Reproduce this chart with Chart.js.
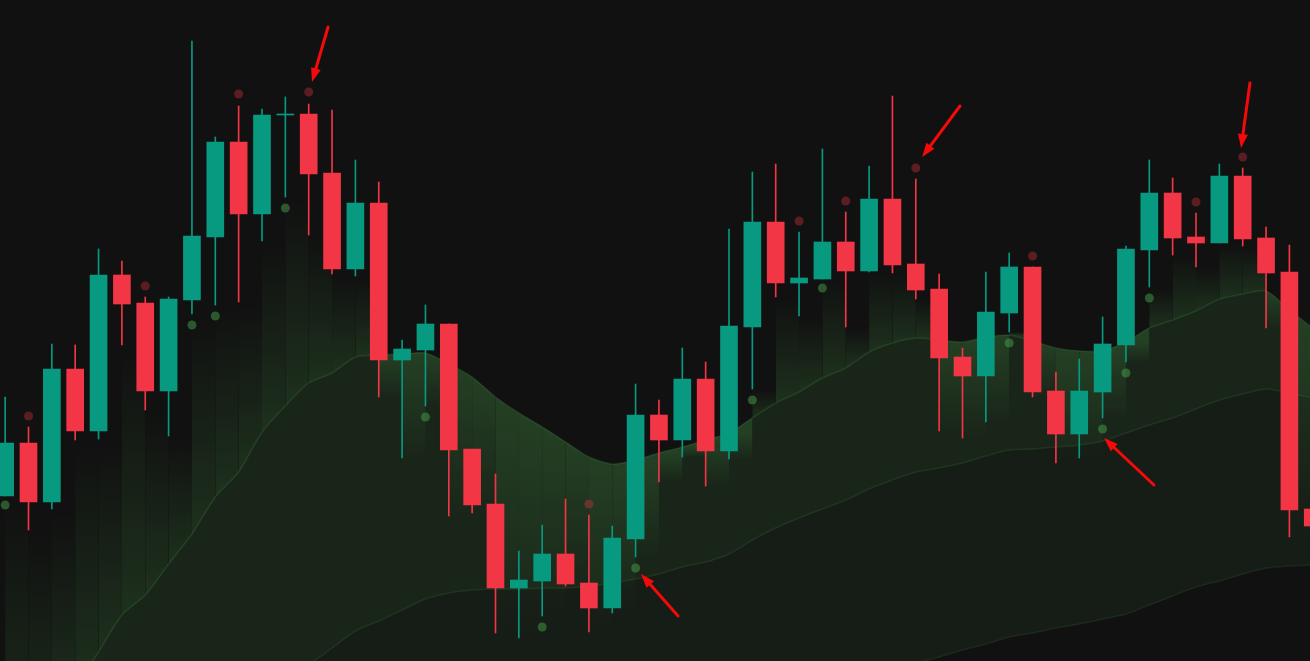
<!DOCTYPE html>
<html>
<head>
<meta charset="utf-8">
<style>
html,body{margin:0;padding:0;background:#111111;overflow:hidden}
#wrap{width:1310px;height:661px;background:#111111}
canvas{display:block}
</style>
<script src="https://cdn.jsdelivr.net/npm/chart.js@4/dist/chart.umd.min.js"></script>
</head>
<body>
<div id="wrap"><canvas id="c" width="1310" height="661"></canvas></div>
<script>
// ---- data (price units) ----
const opens  = [116.5,121.8,115.9,129.2,123.0,138.6,135.8,127.0,136.1,142.4,151.9,144.7,154.6,154.7,148.8,139.2,145.8,130.1,131.1,133.7,121.2,115.7,107.3,108.0,110.7,107.8,105.3,112.2,124.6,122.1,128.2,121.0,133.4,143.9,137.8,138.2,141.9,139.0,146.2,139.7,137.2,130.4,128.5,134.8,139.4,127.0,122.7,126.9,131.6,141.1,146.8,142.4,141.8,148.5,142.3,138.9,115.2];
const highs  = [126.4,123.4,131.7,131.6,141.2,140.0,136.4,136.4,162.0,152.4,155.5,155.2,156.4,155.7,155.1,150.1,147.9,132.1,135.6,133.7,121.2,118.7,111.0,113.6,116.2,114.6,113.5,127.7,126.1,131.3,129.9,143.2,148.9,149.7,142.9,151.2,144.9,149.5,156.5,148.2,138.7,131.3,138.9,140.8,139.4,128.9,130.2,134.4,141.5,150.1,148.3,144.8,149.7,149.3,143.4,141.6,116.1];
const lows   = [116.5,113.1,115.2,122.1,122.2,131.6,125.1,122.5,134.7,135.6,135.9,142.0,146.4,142.6,138.7,138.5,126.4,120.3,125.5,114.5,114.8,102.8,102.3,104.5,107.5,102.9,104.8,110.4,117.9,120.4,117.5,120.2,127.2,136.4,134.5,138.2,133.4,138.9,138.8,136.2,123.0,122.3,123.9,132.9,126.4,119.8,120.3,124.3,129.9,137.4,140.6,139.4,141.8,141.5,133.3,112.4,111.6];
const closes = [121.8,115.9,129.2,123.0,138.6,135.7,127.0,136.2,142.5,151.9,144.7,154.6,154.7,148.7,139.2,145.8,130.1,131.2,133.7,121.1,115.6,107.3,108.1,110.7,107.7,105.3,112.3,124.6,122.1,128.2,121.0,133.5,143.9,137.8,138.3,141.9,139.0,146.2,139.6,137.1,130.3,128.5,134.9,139.4,126.9,122.7,127.0,131.7,141.2,146.8,142.3,141.8,148.5,142.2,138.8,115.1,113.5];

const upperBand  = [86.6,90.2,93.9,97.4,100.9,104.6,106.6,109.7,112.7,116.4,118.9,122.9,125.5,127.8,128.8,130.4,130.6,130.7,130.8,129.7,128.4,126.4,124.8,123.4,121.9,120.4,119.7,120.1,120.8,121.4,122.1,122.8,124.3,125.8,126.9,128.3,129.3,130.9,131.8,132.3,132.1,131.9,132.4,132.6,132.0,131.3,131.0,131.0,131.9,133.3,134.1,135.0,136.2,136.7,137.0,135.1,133.3];
const middleBand = [78.1,79.8,81.4,83.1,84.7,86.4,88.1,89.7,91.4,93.0,94.7,96.4,98.0,99.6,101.3,103.0,104.0,105.1,106.2,106.8,107.1,107.2,107.2,107.3,107.3,107.5,107.8,108.2,108.7,109.4,109.9,110.7,112.1,113.3,114.3,115.2,116.1,117.2,118.1,118.9,119.3,119.8,120.5,121.1,121.2,121.4,121.6,122.0,122.8,123.6,124.3,125.2,126.1,126.7,127.2,126.8,126.3];
const lowerBand  = [74.8,75.5,76.1,76.8,77.4,78.1,78.7,79.3,80.0,80.6,81.2,81.9,82.5,83.2,83.8,84.4,85.1,85.7,86.4,87.0,87.6,88.3,88.9,89.6,90.2,90.9,91.5,92.1,92.8,93.4,94.0,94.7,95.3,95.9,96.6,97.2,97.9,98.5,99.2,99.8,100.4,101.1,101.7,102.4,102.8,103.3,103.7,104.2,104.7,105.6,106.5,107.4,108.0,108.7,109.3,109.5,109.6];

const sellIdx   = [1,6,10,13,25,34,36,39,44,51,53];
const sellPrice = [124.5,137.5,156.7,156.9,115.7,144.0,146.0,149.3,140.5,145.9,150.4];
const buyIdx    = [0,8,9,12,18,23,27,32,35,43,47,48,49];
const buyPrice  = [115.6,133.6,134.5,145.3,124.4,103.4,109.3,126.1,137.3,131.8,123.2,128.8,136.3];

// arrows in data space (bar index, price)
const arrowTailIdx   = [13.83,40.89,53.31,28.82,49.20];
const arrowTailPrice = [163.4,155.5,157.8,104.5,117.6];
const arrowTipIdx    = [13.14,39.27,52.93,27.23,47.06];
const arrowTipPrice  = [157.9,150.4,151.3,108.7,122.3];

// visible window
const visibleFrom = -0.2206, visibleTo = 55.8822;
const priceFloor = 100, priceCeil = 166.1;

// ---- styles ----
const UP = '#089981', DOWN = '#f23645';
const idx = opens.map((_, i) => i);
const isUp = i => closes[i] >= opens[i];

const U_INDEX = 2;
const glowSegment = (ctx) => {
  const chart = ctx.chart;
  const uMeta = chart.getDatasetMeta(U_INDEX);
  const pU = uMeta && uMeta.data[ctx.p0DataIndex];
  if (!pU || !ctx.p0) return 'rgba(0,0,0,0)';
  const y0 = ctx.p0.y, y1 = pU.y;
  if (!isFinite(y0) || !isFinite(y1) || Math.abs(y1 - y0) < 1) return 'rgba(0,0,0,0)';
  const g = chart.ctx.createLinearGradient(0, y0, 0, y1);
  g.addColorStop(0, 'rgba(70,150,70,0)');
  g.addColorStop(1, 'rgba(70,150,70,0.24)');
  return g;
};

const arrowPlugin = {
  id: 'arrows',
  afterDatasetsDraw(chart) {
    const {ctx} = chart;
    const xs = chart.scales.x, ys = chart.scales.y;
    ctx.save();
    ctx.strokeStyle = '#f50a0a';
    ctx.fillStyle = '#f50a0a';
    ctx.lineWidth = 3;
    ctx.lineCap = 'round';
    for (let k = 0; k < arrowTailIdx.length; k++) {
      const x0 = xs.getPixelForValue(arrowTailIdx[k]);
      const y0 = ys.getPixelForValue(arrowTailPrice[k]);
      const x1 = xs.getPixelForValue(arrowTipIdx[k]);
      const y1 = ys.getPixelForValue(arrowTipPrice[k]);
      const a = Math.atan2(y1 - y0, x1 - x0);
      const headLen = 14, headHalf = 5;
      const bx = x1 - headLen * Math.cos(a), by = y1 - headLen * Math.sin(a);
      ctx.beginPath();
      ctx.moveTo(x0, y0);
      ctx.lineTo(bx + 2 * Math.cos(a), by + 2 * Math.sin(a));
      ctx.stroke();
      ctx.beginPath();
      ctx.moveTo(x1, y1);
      ctx.lineTo(bx + headHalf * Math.sin(a), by - headHalf * Math.cos(a));
      ctx.lineTo(bx - headHalf * Math.sin(a), by + headHalf * Math.cos(a));
      ctx.closePath();
      ctx.fill();
    }
    ctx.restore();
  }
};

const toPts = arr => arr.map((v, i) => ({x: i, y: v}));

new Chart(document.getElementById('c'), {
  type: 'bar',
  data: {
    datasets: [
      { // 0 lower band
        type: 'line', order: 9, data: toPts(lowerBand),
        borderColor: 'rgba(80,160,80,0.14)', borderWidth: 1.5, pointRadius: 0,
        tension: 0.25, fill: false
      },
      { // 1 middle band
        type: 'line', order: 8, data: toPts(middleBand),
        borderColor: 'rgba(80,160,80,0.16)', borderWidth: 1.5, pointRadius: 0,
        tension: 0.25, fill: 0, backgroundColor: 'rgba(64,128,64,0.10)'
      },
      { // 2 upper band
        type: 'line', order: 7, data: toPts(upperBand),
        borderColor: 'rgba(80,160,80,0.20)', borderWidth: 1.5, pointRadius: 0,
        tension: 0.25, fill: 1, backgroundColor: 'rgba(64,128,64,0.19)'
      },
      { // 3 glow under candles
        type: 'line', order: 6, data: toPts(lows),
        stepped: true, borderWidth: 0, borderColor: 'rgba(0,0,0,0)', pointRadius: 0,
        backgroundColor: 'rgba(0,0,0,0)', fill: U_INDEX,
        segment: { backgroundColor: glowSegment }
      },
      { // 4 sell markers
        type: 'line', order: 2, showLine: false,
        data: sellIdx.map((i, k) => ({x: i, y: sellPrice[k]})),
        pointRadius: 4.5, pointBorderWidth: 0,
        pointBackgroundColor: 'rgba(242,54,69,0.33)'
      },
      { // 5 buy markers
        type: 'line', order: 2, showLine: false,
        data: buyIdx.map((i, k) => ({x: i, y: buyPrice[k]})),
        pointRadius: 4.5, pointBorderWidth: 0,
        pointBackgroundColor: 'rgba(76,175,80,0.45)'
      },
      { // 6 wicks
        type: 'bar', order: 1, grouped: false,
        data: idx.map(i => ({x: i, y: [lows[i], highs[i]]})),
        barThickness: 1, maxBarThickness: 1, borderWidth: 0, borderSkipped: false,
        backgroundColor: c => isUp(c.dataIndex) ? UP : DOWN
      },
      { // 7 bodies
        type: 'bar', order: 0, grouped: false,
        data: idx.map(i => ({x: i, y: [opens[i], closes[i]]})),
        barThickness: 17, maxBarThickness: 17, borderWidth: 0, borderSkipped: false,
        backgroundColor: c => isUp(c.dataIndex) ? UP : DOWN
      }
    ]
  },
  options: {
    responsive: false,
    animation: false,
    events: [],
    layout: { padding: 0, autoPadding: false },
    scales: {
      x: { type: 'linear', min: visibleFrom, max: visibleTo, offset: false, display: false },
      y: { type: 'linear', min: priceFloor, max: priceCeil, display: false }
    },
    plugins: { legend: { display: false }, tooltip: { enabled: false } }
  },
  plugins: [arrowPlugin]
});
</script>
</body>
</html>
